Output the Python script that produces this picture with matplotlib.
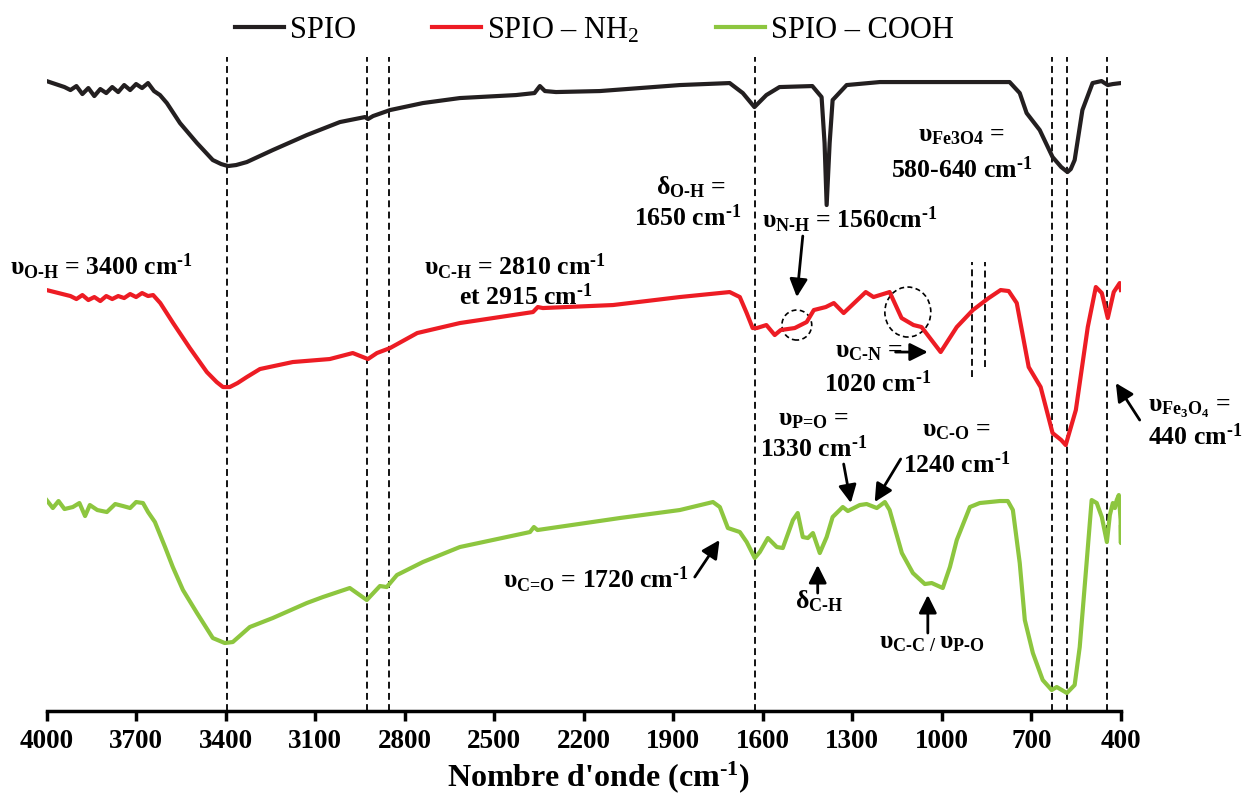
import numpy as np
import matplotlib.pyplot as plt
from matplotlib.patches import Ellipse

plt.rcParams['font.family'] = 'Liberation Serif'
plt.rcParams['mathtext.fontset'] = 'custom'
plt.rcParams['mathtext.rm'] = 'Liberation Serif:bold'
plt.rcParams['mathtext.bf'] = 'Liberation Serif:bold'
plt.rcParams['mathtext.it'] = 'Liberation Serif:bold'
plt.rcParams['mathtext.default'] = 'rm'

# FTIR spectra, offset for display (arbitrary units)
w_spio = [4000, 3980, 3960, 3940, 3920, 3900, 3880, 3860, 3840, 3820,
          3800, 3780, 3760, 3740, 3720, 3700, 3680, 3660, 3640, 3620,
          3597, 3553, 3496, 3443, 3415, 3392, 3365, 3329, 3242, 3128, 3017, 2933,
          2923, 2906, 2849, 2739, 2615, 2427, 2365, 2347, 2330, 2293,
          2146, 1878, 1711, 1667, 1628, 1588, 1544, 1434, 1403, 1393,
          1386, 1376, 1366, 1319, 1208, 984, 773, 739, 716, 672,
          629, 600, 579, 568, 555, 529, 495, 465, 444, 427, 400]
t_spio = [630, 628, 626, 624, 621, 625, 617, 623, 615, 622,
          618, 624, 619, 626, 621, 627, 623, 628, 620, 616,
          608, 588, 568, 551, 547, 545, 546, 549, 561, 576, 589, 594,
          592, 595, 601, 608, 613, 616, 618, 625, 620, 619,
          620, 626, 628, 618, 604, 616, 624, 625, 614, 568,
          506, 568, 611, 626, 629, 629, 629, 618, 598, 581,
          554, 544, 539, 542, 551, 601, 628, 630, 626, 627, 628]

w_nh2 = [4000, 3960, 3920, 3900, 3880, 3860, 3840, 3820, 3800, 3780,
         3760, 3740, 3720, 3700, 3680, 3660, 3643, 3619, 3576, 3520,
         3463, 3430, 3409, 3386, 3360, 3329, 3285, 3175, 3051, 2974, 2923, 2893,
         2849, 2758, 2615, 2548, 2370, 2354, 2337, 2102, 1878, 1711,
         1677, 1654, 1634, 1620, 1588, 1560, 1540, 1493, 1453, 1429,
         1389, 1362, 1329, 1255, 1229, 1175, 1135, 1095, 1068, 1004,
         950, 896, 843, 803, 776, 749, 709, 669, 629, 600, 585,
         551, 511, 484, 464, 444, 424, 404, 400]
t_nh2 = [421, 418, 415, 412, 416, 411, 414, 410, 415, 412,
         415, 413, 417, 414, 418, 415, 416, 408, 388, 363,
         339, 329, 324, 324, 328, 334, 342, 349, 352, 358, 352, 358,
         363, 378, 388, 391, 399, 404, 403, 406, 414, 419,
         414, 398, 383, 383, 386, 376, 381, 383, 389, 401,
         404, 408, 398, 419, 414, 419, 393, 386, 384, 359,
         384, 401, 413, 421, 420, 408, 344, 324, 278, 271, 266,
         301, 384, 424, 418, 393, 419, 428, 421]

w_cooh = [4000, 3979, 3960, 3940, 3912, 3890, 3871, 3855, 3830, 3798,
          3770, 3744, 3720, 3700, 3677, 3660, 3637, 3603, 3577, 3543,
          3496, 3443, 3403, 3376, 3319, 3242, 3128, 3074, 2984, 2927,
          2883, 2860, 2826, 2739, 2615, 2380, 2367, 2355, 2079, 1878,
          1767, 1744, 1717, 1677, 1654, 1627, 1610, 1583, 1553, 1533,
          1499, 1483, 1466, 1449, 1432, 1409, 1386, 1366, 1332, 1315,
          1275, 1252, 1218, 1191, 1175, 1134, 1097, 1057, 1034, 997,
          973, 950, 906, 873, 806, 779, 762, 739, 722, 695,
          662, 632, 615, 581, 555, 538, 515, 498, 481, 464,
          447, 437, 427, 420, 414, 407, 401, 400, 400]
t_cooh = [211, 203, 210, 202, 204, 208, 195, 206, 201, 199,
          207, 205, 203, 209, 208, 199, 189, 164, 144, 121,
          98, 73, 68, 69, 84, 93, 108, 114, 123, 111,
          125, 124, 136, 149, 164, 179, 184, 181, 193, 201,
          209, 204, 183, 179, 169, 153, 159, 173, 164, 163,
          191, 198, 174, 173, 178, 158, 174, 194, 204, 200,
          206, 207, 203, 209, 201, 158, 138, 127, 128, 123,
          144, 171, 204, 208, 210, 210, 201, 148, 91, 58,
          31, 21, 24, 18, 26, 64, 148, 211, 208, 194,
          169, 196, 208, 203, 211, 216, 191, 168, 184]

series_names = ['SPIO', 'SPIO – NH$\\mathregular{_2}$', 'SPIO – COOH']
series_colors = ['#231F20', '#ED1C24', '#8DC63F']

band_lines = [3395, 2926, 2852, 1626, 630, 580, 446]
short_lines = [899, 856]
xticks = np.arange(4000, 399, -300)

fig = plt.figure(figsize=(12.42, 7.98), dpi=100)
ax = fig.add_axes([0.0375, 0.109, 0.865, 0.8195])

lines = []
for w, t, name, c in zip([w_spio, w_nh2, w_cooh], [t_spio, t_nh2, t_cooh],
                         series_names, series_colors):
    ln, = ax.plot(w, t, color=c, lw=3.0, label=name, solid_joinstyle='round', zorder=3)
    lines.append(ln)

dash = (0, (3.8, 2.4))
for v in band_lines:
    ax.axvline(v, color='black', ls=dash, lw=1.3, zorder=1)
ax.plot([short_lines[0]] * 2, [334, 449], color='black', ls=dash, lw=1.3)
ax.plot([short_lines[1]] * 2, [344, 449], color='black', ls=dash, lw=1.3)

ax.add_patch(Ellipse((1486, 386), width=100, height=30, fill=False,
                     ls=(0, (3, 2)), lw=1.2, color='black'))
ax.add_patch(Ellipse((1114, 399), width=154, height=50, fill=False,
                     ls=(0, (3, 2)), lw=1.2, color='black'))

ax.set_xlim(4000, 400)
ax.set_ylim(0, 654)
for s in ['left', 'right', 'top']:
    ax.spines[s].set_visible(False)
ax.spines['bottom'].set_linewidth(2.5)
ax.set_yticks([])
ax.set_xticks(xticks)
ax.set_xticklabels([str(v) for v in xticks], fontweight='bold')
ax.tick_params(axis='x', direction='out', length=7, width=2.5, labelsize=19.5, pad=6)
ax.set_xlabel("Nombre d'onde (cm$^{\\text{-1}}$)", fontsize=23, fontweight='bold', labelpad=4)
ax.xaxis.label.set_x(0.514)

fs = 18.5
def label(x, y, s, ha='center'):
    ax.text(x, y, s, fontsize=fs, fontweight='bold', ha=ha, va='baseline', clip_on=False)

def arrow(tail, head):
    ax.annotate('', xy=head, xytext=tail, annotation_clip=False,
                arrowprops=dict(arrowstyle='-|>,head_length=0.9,head_width=0.45',
                                color='black', lw=2, mutation_scale=12,
                                shrinkA=0, shrinkB=0))

label(4123, 436, 'υ$_{\\text{O-H}}$ = 3400 cm$^{\\text{-1}}$', ha='left')
label(2431, 436, 'υ$_{\\text{C-H}}$ = 2810 cm$^{\\text{-1}}$')
label(2394, 406, 'et 2915 cm$^{\\text{-1}}$')
label(1842, 517, 'δ$_{\\text{O-H}}$ =')
label(1852, 485, '1650 cm$^{\\text{-1}}$')
label(1309, 483, 'υ$_{\\text{N-H}}$ = 1560cm$^{\\text{-1}}$')
label(933, 570, 'υ$_{\\text{Fe3O4}}$ =')
label(933, 533, '580-640 cm$^{\\text{-1}}$')
label(1244, 354, 'υ$_{\\text{C-N}}$ =')
label(1215, 319, '1020 cm$^{\\text{-1}}$')
label(310, 299, 'υ$_{\\text{Fe}_{3}\\text{O}_{4}}$ =', ha='left')
label(310, 266, '440 cm$^{\\text{-1}}$', ha='left')
label(1429, 286, 'υ$_{\\text{P=O}}$ =')
label(1429, 254, '1330 cm$^{\\text{-1}}$')
label(952, 275, 'υ$_{\\text{C-O}}$ =')
label(952, 238, '1240 cm$^{\\text{-1}}$')
label(1847, 123, 'υ$_{\\text{C=O}}$ = 1720 cm$^{\\text{-1}}$', ha='right')
label(1412, 103, 'δ$_{\\text{C-H}}$')
label(1034, 63, 'υ$_{\\text{C-C / }}$υ$_{\\text{P-O}}$')

arrow((1466, 475), (1486, 414))
arrow((1155, 359), (1047, 359))
arrow((337, 291), (417, 328))
arrow((1329, 247), (1305, 208))
arrow((1138, 252), (1225, 209))
arrow((1828, 134), (1745, 171))
arrow((1416, 118), (1416, 146))
arrow((1047, 78), (1047, 116))

fig.legend(handles=lines, loc='center', bbox_to_anchor=(0.4787, 0.962), ncol=3,
           frameon=False, fontsize=22, handlelength=1.6, handletextpad=0.2,
           columnspacing=2.5)

fig.savefig('out.png', dpi=100)
